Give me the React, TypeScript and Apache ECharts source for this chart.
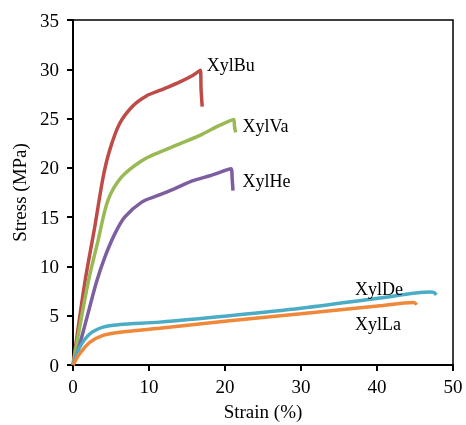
import React, { useEffect, useRef } from "react";
import * as echarts from "echarts";

const seriesNames = ["XylBu", "XylVa", "XylHe", "XylDe", "XylLa"];
const seriesColors = ["#BE4B48", "#98B954", "#7D5FA0", "#4AACC5", "#F0883A"];

const xylBu = [[0,0],[1.54,8.3],[2.86,14.0],[3.95,19.0],[4.83,21.8],[6.14,24.5],[7.9,26.3],[9.66,27.3],[11.4,27.85],[14.0,28.7],[15.8,29.4],[16.76,29.9],[16.85,28],[17.0,26.2]];
const xylVa = [[0,0],[1.97,8.3],[3.29,12.6],[4.6,16.7],[6.37,19.05],[9.0,20.7],[11.4,21.6],[13.6,22.3],[16.7,23.3],[19,24.2],[21.15,24.9],[21.25,24.2],[21.4,23.6]];
const xylHe = [[0,0],[0.66,1.5],[1.76,4.6],[3.08,8.4],[4.17,10.9],[5.5,13.3],[6.8,15.0],[9.0,16.5],[11.2,17.2],[13.4,17.9],[15.8,18.7],[18,19.2],[20.8,19.9],[20.95,18.8],[21.05,17.7]];
const xylDe = [[0,0],[0.88,1.8],[2.2,3.15],[3.95,3.85],[6.14,4.1],[11.4,4.35],[20.6,5.0],[30,5.75],[40.4,6.8],[47.0,7.4],[47.5,7.35],[47.8,7.1]];
const xylLa = [[0,0],[0.88,1.14],[2.2,2.3],[3.95,3.0],[6.14,3.33],[11.4,3.73],[20.6,4.5],[30,5.2],[40.4,6.0],[44.7,6.35],[45.0,6.3],[45.2,6.1]];
const seriesData = [xylBu, xylVa, xylHe, xylDe, xylLa];

const labelCoords = [[17.6, 30.4],[22.3, 24.2],[22.3, 18.7],[37.1, 7.7],[37.1, 4.15]];

const xAxisTitle = "Strain (%)";
const yAxisTitle = "Stress (MPa)";
const xMin = 0, xMax = 50, xStep = 10;
const yMin = 0, yMax = 35, yStep = 5;

export default function App() {
  const ref = useRef<HTMLDivElement>(null);
  useEffect(() => {
    if (!ref.current) return;
    const chart = echarts.init(ref.current, null, { renderer: "svg" });
    chart.setOption({
      animation: false,
      grid: {
        left: 73, right: 13, top: 20, bottom: 60,
        containLabel: false, outerBoundsMode: "none",
        show: true, borderColor: "#000", borderWidth: 1.5,
      },
      xAxis: {
        type: "value", min: xMin, max: xMax, interval: xStep,
        name: xAxisTitle, nameLocation: "middle", nameGap: 37,
        nameTextStyle: { color: "#000", fontSize: 19, fontFamily: "Liberation Serif" },
        axisLabel: { color: "#000", fontSize: 19, fontFamily: "Liberation Serif", margin: 12 },
        axisLine: { show: true, onZero: false, lineStyle: { color: "#000", width: 2 } },
        axisTick: { show: true, length: 6, lineStyle: { color: "#000", width: 2 } },
        splitLine: { show: false },
      },
      yAxis: {
        type: "value", min: yMin, max: yMax, interval: yStep,
        name: yAxisTitle, nameLocation: "middle", nameGap: 40,
        nameTextStyle: { color: "#000", fontSize: 19, fontFamily: "Liberation Serif" },
        axisLabel: { color: "#000", fontSize: 19, fontFamily: "Liberation Serif", margin: 14 },
        axisLine: { show: true, onZero: false, lineStyle: { color: "#000", width: 2 } },
        axisTick: { show: true, length: 6, lineStyle: { color: "#000", width: 2 } },
        splitLine: { show: false },
      },
      series: seriesNames.map((name, i) => ({
        name,
        type: "line",
        data: seriesData[i],
        smooth: 0.3,
        symbol: "none",
        lineStyle: { color: seriesColors[i], width: 3.5 },
        markPoint: {
          symbol: "circle",
          symbolSize: 0,
          label: { show: true, position: "right", distance: 0, formatter: name, color: "#000", fontSize: 18, fontFamily: "Liberation Serif" },
          data: [{ coord: labelCoords[i] }],
        },
      })),
    });
    return () => chart.dispose();
  }, []);
  return <div ref={ref} style={{ position: "fixed", left: 0, top: 0, width: 466, height: 425 }} />;
}
